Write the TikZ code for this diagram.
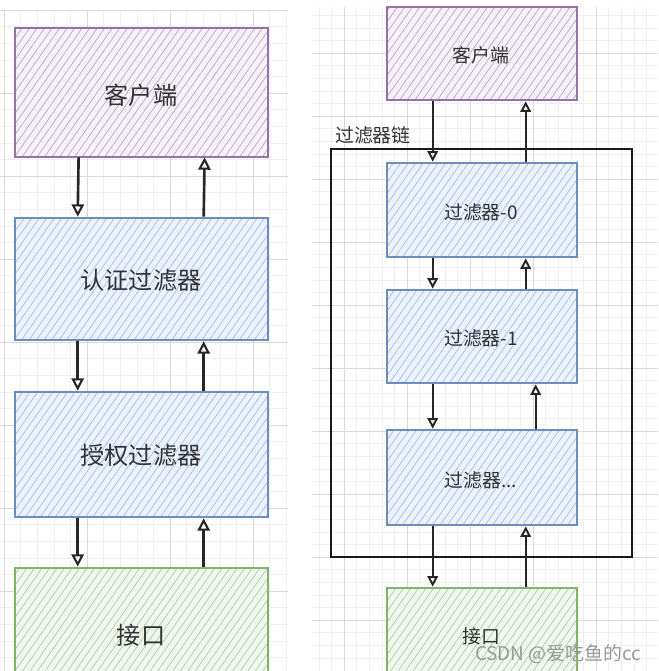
\documentclass[tikz,border=0pt]{standalone}
\usepackage{fontspec}
\setmainfont{Noto Sans CJK SC}
\usepackage{tikz}
\usetikzlibrary{arrows.meta, fit, calc, patterns.meta}

\definecolor{cliline}{HTML}{9673A6}
\definecolor{clifill}{HTML}{E1D5E7}
\definecolor{fltline}{HTML}{6C8EBF}
\definecolor{fltfill}{HTML}{DAE8FC}
\definecolor{apiline}{HTML}{82B366}
\definecolor{apifill}{HTML}{D5E8D4}

\begin{document}
\begin{tikzpicture}[
  x=0.04cm, y=-0.04cm,
  gmin/.style   = {draw=black!6,  line width=0.6pt},
  gmaj/.style   = {draw=black!15, line width=0.9pt},
  skbox/.style  = {inner sep=0pt, line width=3pt},
  clibox/.style = {skbox, draw=cliline, preaction={fill=clifill!30}, pattern color=cliline!60,
                   pattern={Lines[angle=55, distance=7pt, line width=0.9pt]}},
  fltbox/.style = {skbox, draw=fltline, preaction={fill=fltfill!50}, pattern color=fltline!55,
                   pattern={Lines[angle=55, distance=7pt, line width=0.9pt]}},
  apibox/.style = {skbox, draw=apiline, preaction={fill=apifill!35}, pattern color=apiline!60,
                   pattern={Lines[angle=55, distance=7pt, line width=0.9pt]}},
  txt/.style    = {text=black!80, inner sep=0pt, text depth=0pt},
  big/.style    = {txt, text height=21pt, font=\fontsize{27.5}{30}\selectfont},
  small/.style  = {txt, text height=16.4pt, font=\fontsize{21.5}{24}\selectfont},
  chain/.style  = {draw=black!90, line width=2.6pt, inner sep=0pt},
  flow/.style   = {draw=black!85, line width=3pt,
                   -{Triangle[open, length=14pt, width=14pt, line width=2.4pt]}},
  flowsm/.style = {draw=black!85, line width=2.6pt,
                   -{Triangle[open, length=12pt, width=12pt, line width=2.2pt]}},
]
\clip (0,0) rectangle (658,671);

% grid, left panel
\foreach \i in {0,...,17} \draw[gmin] ({4+16.6*\i},10) -- ({4+16.6*\i},671);
\foreach \i in {0,...,39} \draw[gmin] (0,{10+16.6*\i}) -- (288,{10+16.6*\i});
\foreach \i in {0,...,3}  \draw[gmaj] ({4+83*\i},10) -- ({4+83*\i},671);
\foreach \i in {0,...,7}  \draw[gmaj] (0,{10+83*\i}) -- (288,{10+83*\i});

% grid, right panel
\foreach \i in {0,...,26} \draw[gmin] ({318.8+12.6*\i},7) -- ({318.8+12.6*\i},671);
\foreach \i in {0,...,51} \draw[gmin] (312,{15.2+12.6*\i}) -- (658,{15.2+12.6*\i});
\foreach \i in {0,...,4}  \draw[gmaj] ({344+63*\i},7) -- ({344+63*\i},671);
\foreach \i in {0,...,9}  \draw[gmaj] (312,{53+63*\i}) -- (658,{53+63*\i});

% left: two fixed filters
\node[clibox, fit={(15,28) (268,157)}]  (cli)   {};
\node[fltbox, fit={(15,218) (268,340)}] (auth)  {};
\node[fltbox, fit={(15,392) (268,517)}] (authz) {};
\node[apibox, fit={(15,568) (268,702)}] (api)   {};
\node[big] (clitxt)   at (141,95)  {客户端};
\node[big] (authtxt)  at (141,280) {认证过滤器};
\node[big] (authztxt) at (141,455) {授权过滤器};
\node[big] (apitxt)   at (141,635) {接口};

\foreach \a/\b in {cli/auth, auth/authz, authz/api}{
  \draw[flow] ($(\a.south west)+(64,0)$) -- ($(\b.north west)+(64,0)$);
  \draw[flow] ($(\b.north west)+(190,0)$) -- ($(\a.south west)+(190,0)$);
}

% right: filter chain
\node[chain, fit={(331,149) (632,557)}] (frame) {};
\node[small, anchor=west] (chainlbl) at (335,135) {过滤器链};

\node[clibox, fit={(387,7) (577,100)}]   (cli2) {};
\node[fltbox, fit={(387,163) (577,257)}] (flt0) {};
\node[fltbox, fit={(387,290) (577,383)}] (flt1) {};
\node[fltbox, fit={(387,430) (577,525)}] (fltx) {};
\node[apibox, fit={(387,588) (577,684)}] (api2) {};
\node[small] (cli2txt) at (481,55)  {客户端};
\node[small] (flt0txt) at (481,212) {过滤器-0};
\node[small] (flt1txt) at (481,338) {过滤器-1};
\node[small] (fltxtxt) at (481,480) {过滤器...};
\node[small] (api2txt) at (481,636) {接口};

\foreach \a/\b/\u in {cli2/flt0/140, flt0/flt1/140, flt1/fltx/150, fltx/api2/140}{
  \draw[flowsm] ($(\a.south west)+(47,0)$) -- ($(\b.north west)+(47,0)$);
  \draw[flowsm] ($(\b.north west)+(\u,0)$) -- ($(\a.south west)+(\u,0)$);
}

\node[small, text=black!40] (mark) at (558,653) {CSDN @爱吃鱼的cc};
\end{tikzpicture}
\end{document}
